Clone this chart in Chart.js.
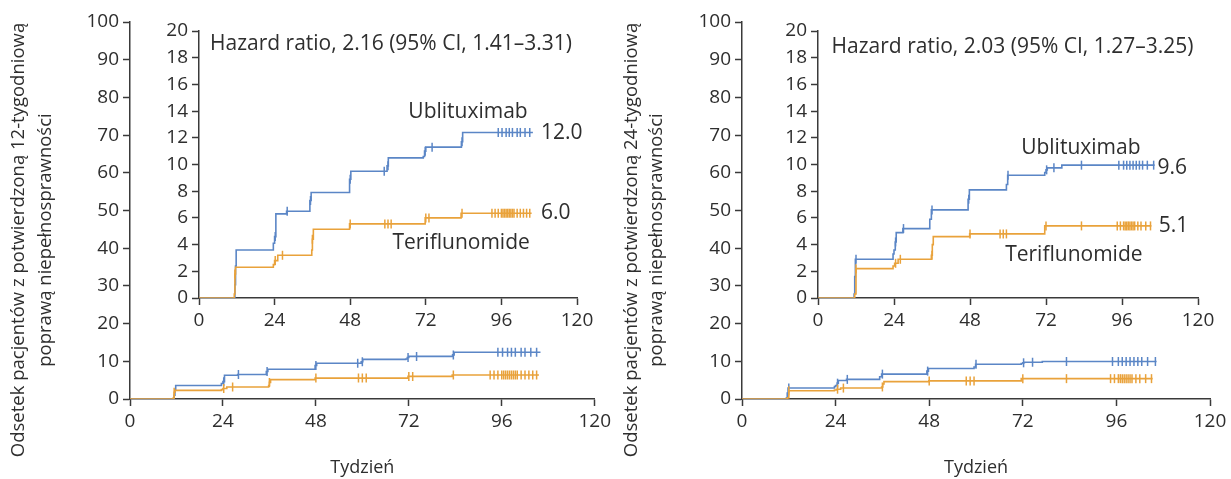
<!DOCTYPE html>
<html>
<head>
<meta charset="utf-8">
<script src="https://cdn.jsdelivr.net/npm/chart.js@4.4.0/dist/chart.umd.min.js"></script>
<style>
  body { margin: 0; background: #fff; width: 1231px; height: 479px; overflow: hidden; position: relative; }
  canvas { position: absolute; }
</style>
</head>
<body>
<canvas id="mainL" width="615" height="479" style="left:0;top:0"></canvas>
<canvas id="insetL" width="460" height="345" style="left:140px;top:0"></canvas>
<canvas id="mainR" width="611" height="479" style="left:620px;top:0"></canvas>
<canvas id="insetR" width="465" height="345" style="left:758px;top:0"></canvas>
<script>
// ---- data (weeks / percent) ----
var xTicks = [0, 24, 48, 72, 96, 120];
var mainYTicks = [0, 10, 20, 30, 40, 50, 60, 70, 80, 90, 100];
var insetYTicks = [0, 2, 4, 6, 8, 10, 12, 14, 16, 18, 20];

// 12-week confirmed improvement
var ubli12Weeks = [0, 11.4, 11.6, 11.8, 23.6, 24.0, 24.4, 27.8, 35.2, 35.6, 47.8, 48.2, 59.7, 60.1, 71.2, 71.6, 72.0, 83.3, 83.7, 106];
var ubli12Pct   = [0, 1.0, 2.4, 3.6, 4.1, 4.6, 6.3, 6.5, 7.3, 7.9, 8.9, 9.5, 9.9, 10.5, 10.6, 11.0, 11.3, 11.7, 12.4, 12.4];
var ubli12Cens  = [24.2, 28, 35.4, 48, 58.8, 60, 71.8, 74, 83.5, 95, 96.2, 97.5, 98.5, 99.5, 101, 102, 103.5, 105];
var teri12Weeks = [0, 11.2, 11.4, 11.6, 23.6, 24.0, 25.0, 35.8, 36.0, 36.3, 47.8, 71.8, 83.2, 105.6];
var teri12Pct   = [0, 0.3, 1.8, 2.3, 2.5, 2.8, 3.2, 3.6, 4.4, 5.15, 5.55, 6.0, 6.35, 6.35];
var teri12Cens  = [11.4, 24.2, 26.5, 36, 48, 59, 60, 61, 72, 73, 83.5, 93, 94, 95, 96, 96.5, 97, 97.5, 98, 98.5, 99, 99.5, 100, 101, 102, 103, 104, 105];

// 24-week confirmed improvement
var ubli24Weeks = [0, 11.4, 11.6, 11.8, 23.7, 24.0, 24.4, 24.7, 26.8, 35.3, 35.8, 47.4, 47.8, 59.5, 59.9, 71.6, 72.0, 72.4, 77, 106.3];
var ubli24Pct   = [0, 0.3, 1.6, 2.9, 3.3, 3.6, 4.2, 4.9, 5.2, 5.9, 6.6, 7.4, 8.1, 8.5, 9.2, 9.4, 9.6, 9.75, 9.95, 9.95];
var ubli24Cens  = [12, 24.5, 27, 36, 47.6, 60, 72.2, 74.5, 83.2, 95, 96.5, 97.5, 98.5, 99.5, 100.5, 101.5, 102.5, 104, 106];
var teri24Weeks = [0, 11.6, 12.0, 23.7, 24.2, 25.3, 35.8, 36.1, 36.4, 47.9, 71.6, 105.3];
var teri24Pct   = [0, 0.3, 2.2, 2.4, 2.6, 2.9, 3.2, 4.0, 4.6, 4.8, 5.4, 5.4];
var teri24Cens  = [12, 24.5, 26, 36, 48, 57.5, 58.5, 59.5, 72, 83.2, 94.5, 95.5, 96.5, 97, 97.5, 98, 98.5, 99, 99.5, 100, 101, 102, 103.5, 105];

var BLUE = '#5b86c6';
var ORANGE = '#e9a23b';
var AXIS = '#3a3a3a';
var TEXT = '#2e2e2e';
var TICK_FONT = { family: 'Open Sans', size: 19 };

function stepAt(times, vals, t) {
  var v = 0;
  for (var i = 0; i < times.length; i++) {
    if (times[i] <= t) v = vals[i];
  }
  return v;
}

function curve(times, vals) {
  return times.map(function (t, i) { return { x: t, y: vals[i] }; });
}

function censored(times, vals, cens) {
  return cens.map(function (t) { return { x: t, y: stepAt(times, vals, t) }; });
}

function datasets(uT, uV, uC, tT, tV, tC) {
  var line = function (data, color) {
    return { data: data, borderColor: color, borderWidth: 1.6, stepped: true, pointRadius: 0, fill: false };
  };
  var marks = function (data, color) {
    return { data: data, showLine: false, borderColor: color, pointStyle: 'line', rotation: 90,
             pointRadius: 4.5, pointBorderWidth: 1.5, pointBorderColor: color };
  };
  return [
    line(curve(tT, tV), ORANGE), marks(censored(tT, tV, tC), ORANGE),
    line(curve(uT, uV), BLUE), marks(censored(uT, uV, uC), BLUE)
  ];
}

function scale(min, max, list, fitW, fitH, extra) {
  var s = {
    type: 'linear', min: min, max: max,
    grid: { drawOnChartArea: false, drawTicks: true, tickLength: 7, tickColor: AXIS, tickWidth: 1.5 },
    border: { display: true, color: AXIS, width: 1.5 },
    ticks: { font: TICK_FONT, color: TEXT, padding: 4, maxRotation: 0, autoSkip: false },
    afterBuildTicks: function (sc) { sc.ticks = list.map(function (v) { return { value: v }; }); }
  };
  if (fitW) s.afterFit = function (sc) { sc.width = fitW; };
  if (fitH) s.afterFit = function (sc) { sc.height = fitH; };
  if (extra) for (var k in extra) s[k] = extra[k];
  return s;
}

// text drawn on the canvas in data or pixel space
var textPlugin = {
  id: 'texts',
  afterDraw: function (chart, args, opts) {
    var ctx = chart.ctx;
    (opts.items || []).forEach(function (it) {
      ctx.save();
      ctx.fillStyle = TEXT;
      ctx.font = it.font;
      ctx.textAlign = it.align || 'left';
      ctx.textBaseline = 'middle';
      var px = it.data ? chart.scales.x.getPixelForValue(it.x) : it.x;
      var py = it.data ? chart.scales.y.getPixelForValue(it.y) : it.y;
      ctx.translate(px, py);
      if (it.rotate) ctx.rotate(it.rotate);
      ctx.fillText(it.text, 0, 0);
      ctx.restore();
    });
  }
};

function mainChart(id, ds, fitW, padRight, yTitle, titleX) {
  var F = '18.5px "Open Sans"';
  return new Chart(document.getElementById(id), {
    type: 'line',
    data: { datasets: ds },
    plugins: [textPlugin],
    options: {
      responsive: false, animation: false,
      layout: { padding: { top: 22, right: padRight, left: 0, bottom: 0 } },
      plugins: {
        legend: { display: false }, tooltip: { enabled: false },
        texts: { items: [
          { text: yTitle[0], x: titleX[0], y: 240, align: 'center', rotate: -Math.PI / 2, font: F },
          { text: yTitle[1], x: titleX[1], y: 240, align: 'center', rotate: -Math.PI / 2, font: F }
        ] }
      },
      scales: {
        x: scale(0, 120, xTicks, null, 80, {
          title: { display: true, text: 'Tydzień', color: TEXT, font: { family: 'Open Sans', size: 18 }, padding: 0 }
        }),
        y: scale(0, 100, mainYTicks, fitW, null)
      }
    }
  });
}

function insetChart(id, ds, fitW, padRight, labels) {
  var F = '21px "Open Sans"';
  return new Chart(document.getElementById(id), {
    type: 'line',
    data: { datasets: ds },
    plugins: [textPlugin],
    options: {
      responsive: false, animation: false,
      layout: { padding: { top: 31, right: padRight, left: 0, bottom: 0 } },
      plugins: {
        legend: { display: false }, tooltip: { enabled: false },
        texts: { items: labels.map(function (l) {
          return { text: l[0], x: l[1], y: l[2], align: l[3], data: true, font: F };
        }) }
      },
      scales: {
        x: scale(0, 120, xTicks, null, 47),
        y: scale(0, 20, insetYTicks, fitW, null)
      }
    }
  });
}

var dsL = function () { return datasets(ubli12Weeks, ubli12Pct, ubli12Cens, teri12Weeks, teri12Pct, teri12Cens); };
var dsR = function () { return datasets(ubli24Weeks, ubli24Pct, ubli24Cens, teri24Weeks, teri24Pct, teri24Cens); };

mainChart('mainL', dsL(), 130, 15,
  ['Odsetek pacjentów z potwierdzoną 12-tygodniową', 'poprawą niepełnosprawności'], [19, 46]);
mainChart('mainR', dsR(), 122, 21,
  ['Odsetek pacjentów z potwierdzoną 24-tygodniową', 'poprawą niepełnosprawności'], [12, 37]);

insetChart('insetL', dsL(), 59, 23, [
  ['Hazard ratio, 2.16 (95% CI, 1.41\u20133.31)', 3.5, 19, 'left'],
  ['Ublituximab', 85.4, 13.9, 'center'],
  ['12.0', 108.6, 12.35, 'left'],
  ['6.0', 108.6, 6.35, 'left'],
  ['Teriflunomide', 83.2, 4.1, 'center']
]);
insetChart('insetR', dsR(), 60, 25, [
  ['Hazard ratio, 2.03 (95% CI, 1.27\u20133.25)', 4.3, 18.8, 'left'],
  ['Ublituximab', 83, 11.2, 'center'],
  ['9.6', 107.2, 9.75, 'left'],
  ['5.1', 107.6, 5.4, 'left'],
  ['Teriflunomide', 80.8, 3.25, 'center']
]);
</script>
</body>
</html>
